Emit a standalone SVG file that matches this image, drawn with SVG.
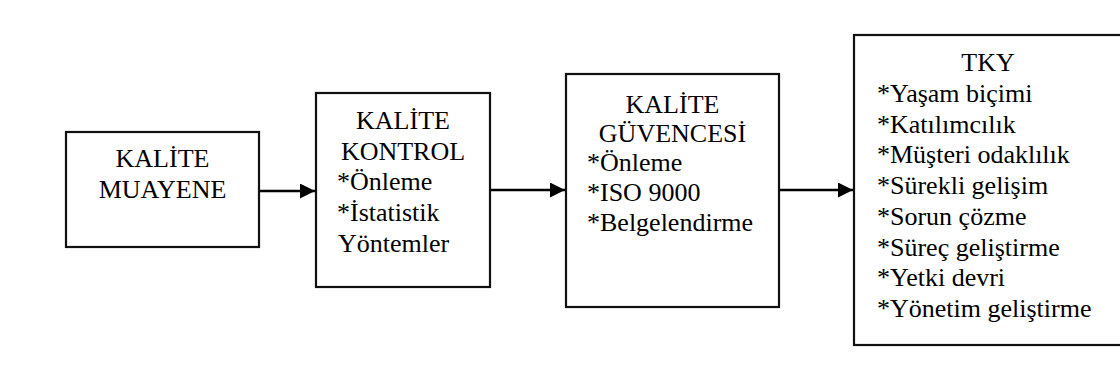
<svg xmlns="http://www.w3.org/2000/svg" width="1120" height="385" viewBox="0 0 1120 385">
<style>
  .box { fill: #ffffff; stroke: #111111; stroke-width: 2.2; }
  .t { font-size: 26px; fill: #000000; }
  .c { text-anchor: middle; }
  .conn { stroke: #000000; stroke-width: 2.4; fill: none; }
</style>
<defs>
  <marker id="ah" viewBox="0 0 10 10" refX="10" refY="5" markerWidth="15" markerHeight="15" markerUnits="userSpaceOnUse" orient="auto">
    <path d="M0,0 L10,5 L0,10 z" fill="#000000"/>
  </marker>
</defs>
<rect width="1120" height="385" fill="#ffffff"/>
<g id="connectors">
  <line class="conn" x1="259" y1="191" x2="315" y2="191" marker-end="url(#ah)"/>
  <line class="conn" x1="490" y1="190" x2="565" y2="190" marker-end="url(#ah)"/>
  <line class="conn" x1="779" y1="190" x2="853" y2="190" marker-end="url(#ah)"/>
</g>
<g font-family="Liberation Serif, DejaVu Serif, serif">
<g id="node-muayene">
  <rect class="box" x="66" y="132" width="193" height="115"/>
  <text class="t c" x="162.5" y="167">KALİTE</text>
  <text class="t c" x="162.5" y="198">MUAYENE</text>
</g>
<g id="node-kontrol">
  <rect class="box" x="316" y="93" width="174" height="194"/>
  <text class="t c" x="403" y="129">KALİTE</text>
  <text class="t c" x="403" y="160">KONTROL</text>
  <text class="t" x="337" y="190">*Önleme</text>
  <text class="t" x="337" y="221">*İstatistik</text>
  <text class="t" x="338" y="252">Yöntemler</text>
</g>
<g id="node-guvence">
  <rect class="box" x="566" y="74" width="213" height="233"/>
  <text class="t c" x="672.5" y="113">KALİTE</text>
  <text class="t c" x="672.5" y="142">GÜVENCESİ</text>
  <text class="t" x="587" y="171">*Önleme</text>
  <text class="t" x="587" y="201">*ISO 9000</text>
  <text class="t" x="587" y="231">*Belgelendirme</text>
</g>
<g id="node-tky">
  <rect class="box" x="854" y="35" width="268" height="310"/>
  <text class="t c" x="988" y="71">TKY</text>
  <text class="t" x="877" y="102">*Yaşam biçimi</text>
  <text class="t" x="877" y="132.7">*Katılımcılık</text>
  <text class="t" x="877" y="163.4">*Müşteri odaklılık</text>
  <text class="t" x="877" y="194">*Sürekli gelişim</text>
  <text class="t" x="877" y="224.8">*Sorun çözme</text>
  <text class="t" x="877" y="255.5">*Süreç geliştirme</text>
  <text class="t" x="877" y="286.2">*Yetki devri</text>
  <text class="t" x="877" y="317">*Yönetim geliştirme</text>
</g>
</g>
</svg>
